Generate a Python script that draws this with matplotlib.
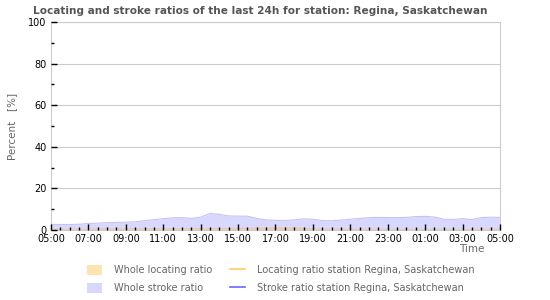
import numpy as np
import matplotlib.pyplot as plt
from matplotlib.patches import Patch
from matplotlib.lines import Line2D

# hours since 05:00, half-hour steps
hours = np.arange(0, 24.5, 0.5)
stroke_ratio = [2.7, 2.7, 2.7, 2.8, 3.2, 3.3, 3.6, 3.7, 3.8, 4.0,
                4.5, 5.0, 5.5, 5.9, 6.0, 5.6, 6.2, 8.0, 7.6, 6.8,
                6.7, 6.7, 5.6, 4.9, 4.7, 4.6, 4.9, 5.4, 5.2, 4.6,
                4.5, 4.8, 5.2, 5.6, 6.0, 6.1, 6.0, 6.0, 6.1, 6.5,
                6.6, 6.3, 5.2, 5.1, 5.5, 5.0, 6.0, 6.2, 6.1]

loc_hours = np.arange(0, 25, 1)
locating_ratio = [0.9, 0.9, 1.0, 1.0, 1.0, 1.1, 1.2, 1.2, 1.3, 1.4,
                  1.4, 1.5, 1.8, 1.7, 1.1, 0.9, 0.9, 0.9, 0.8, 0.8,
                  0.8, 0.8, 0.8, 0.9, 0.9]

tick_labels = ["05:00", "07:00", "09:00", "11:00", "13:00", "15:00", "17:00",
               "19:00", "21:00", "23:00", "01:00", "03:00", "05:00"]

stroke_fill = "#d8d8ff"
locating_fill = "#ffe3b0"
grey = "#555555"

fig = plt.figure(figsize=(5.5, 3), dpi=100)
ax = fig.add_axes([0.0927, 0.233, 0.8163, 0.694])

ax.fill_between(hours, 0, stroke_ratio, color=stroke_fill, lw=0)
ax.plot(hours, stroke_ratio, color="#c4c4f4", lw=0.8)
ax.fill_between(loc_hours, 0, locating_ratio, color="#e8cdbb", lw=0)

ax.set_xlim(0, 24)
ax.set_ylim(0, 100)
ax.set_xticks(np.arange(0, 25, 2))
ax.set_xticklabels(tick_labels)
ax.set_xticks(np.arange(0, 24.5, 0.5), minor=True)
ax.set_yticks(np.arange(0, 101, 20))
ax.set_yticks(np.arange(10, 100, 20), minor=True)

ax.tick_params(axis="x", which="major", direction="in", length=4, width=1,
               labelsize=7, pad=3)
ax.tick_params(axis="x", which="minor", direction="in", length=2.5, width=1)
ax.tick_params(axis="y", which="major", direction="in", length=4, width=1,
               labelsize=7, pad=3)
ax.tick_params(axis="y", which="minor", direction="in", length=2, width=1)

ax.grid(axis="y", which="major", color="#cccccc", lw=0.8)
ax.set_axisbelow(False)
for side in ["top", "right", "left", "bottom"]:
    ax.spines[side].set_color("#cccccc")
    ax.spines[side].set_linewidth(0.8)

fig.text(0.473, 0.965, "Locating and stroke ratios of the last 24h for station: Regina, Saskatchewan",
         ha="center", va="center", fontsize=7.6, fontweight="bold", color=grey)
fig.text(0.022, 0.58, "Percent   [%]", rotation=90, ha="center", va="center",
         fontsize=7.5, color="#666666")
fig.text(0.858, 0.17, "Time", ha="center", va="center", fontsize=7.5, color="#666666")

handles = [
    Patch(facecolor=locating_fill, edgecolor="none", label="Whole locating ratio"),
    Patch(facecolor=stroke_fill, edgecolor="none", label="Whole stroke ratio"),
    Line2D([], [], color="#ffcc66", lw=1.2, label="Locating ratio station Regina, Saskatchewan"),
    Line2D([], [], color="#6666ff", lw=1.2, label="Stroke ratio station Regina, Saskatchewan"),
]
leg = fig.legend(handles=handles, loc="upper left", bbox_to_anchor=(0.152, 0.13),
                 ncol=2, frameon=False, fontsize=7, handlelength=1.5,
                 handleheight=1.3, handletextpad=1.2, columnspacing=1.9,
                 labelspacing=0.75, borderaxespad=0)
for t in leg.get_texts():
    t.set_color("#666666")

fig.savefig("out.png", dpi=100)
